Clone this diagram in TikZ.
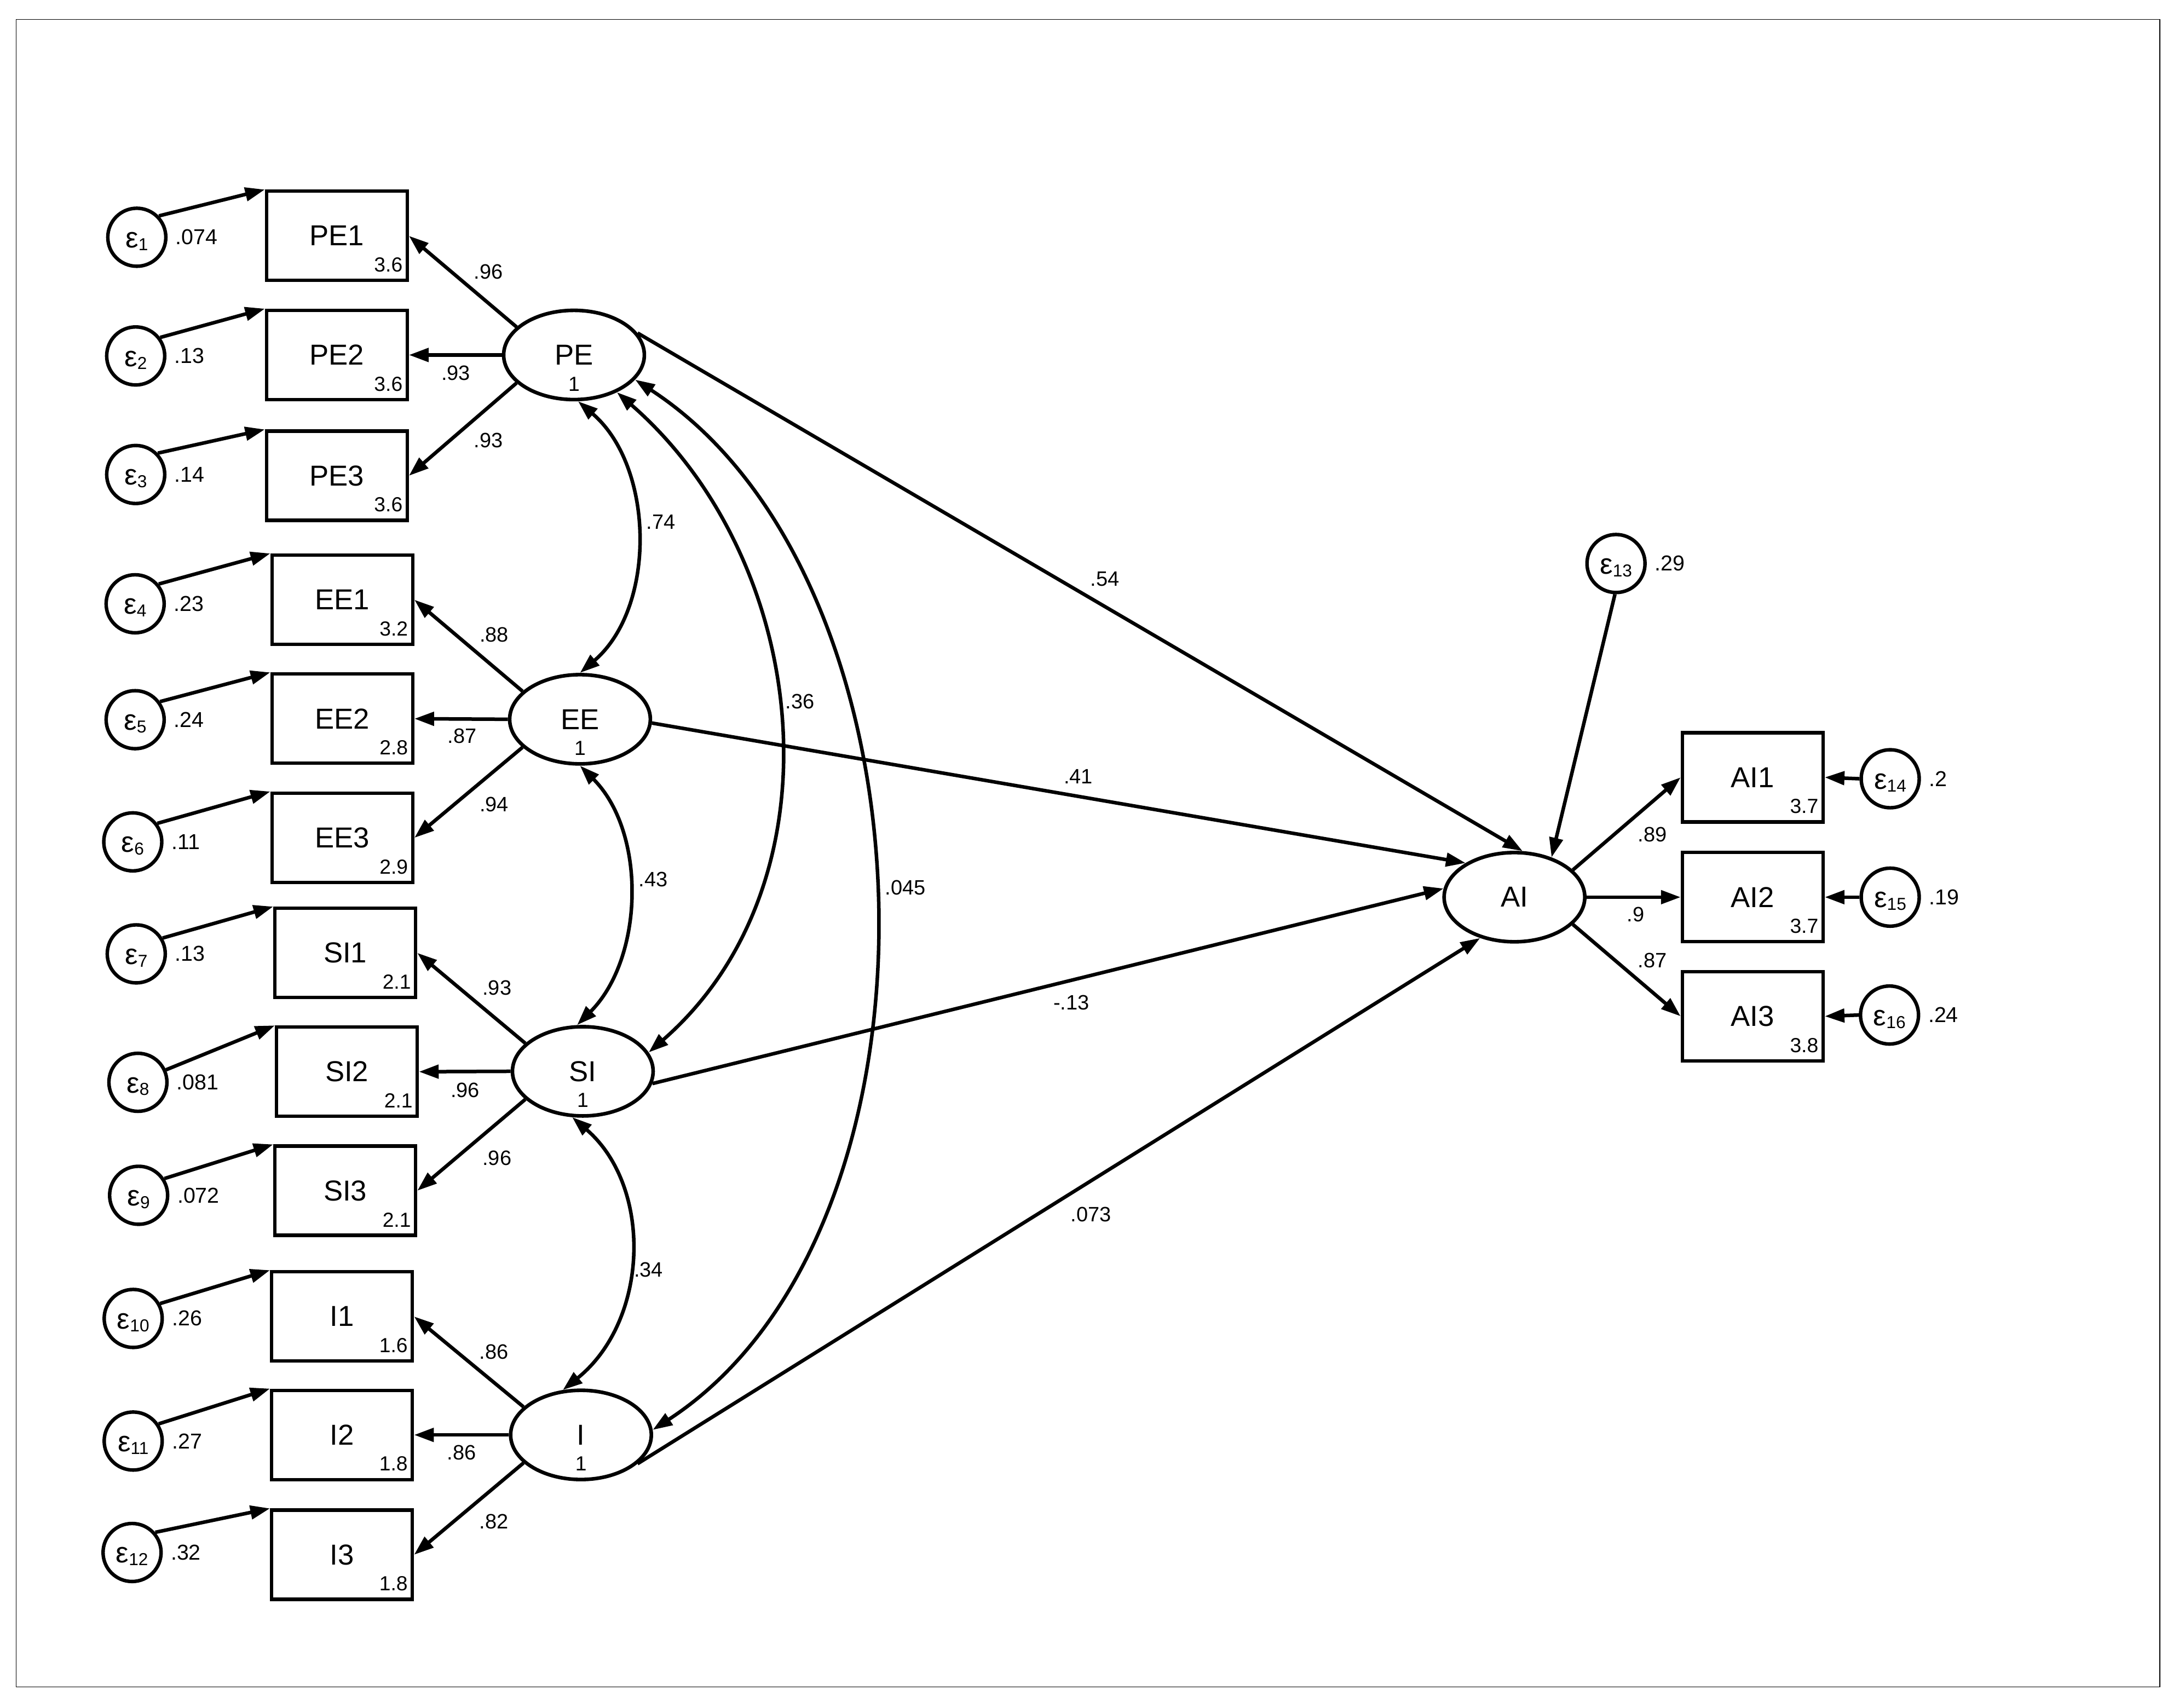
\documentclass[tikz,border=0pt]{standalone}
\usepackage{fontspec}
\setmainfont{Liberation Sans}
\usetikzlibrary{arrows.meta,shapes.geometric}
\newcommand\epsl[1]{\raisebox{-5.4pt}[0pt][0pt]{ε\raisebox{-1.4pt}{\fontsize{9}{9}\selectfont #1}}}
\begin{document}
\begin{tikzpicture}[x=0.2545mm,y=-0.2545mm,
 >={Triangle[length=3.6mm,width=2.45mm]},
 obs/.style={draw,rectangle,minimum width=25.7mm,minimum height=16.3mm,line width=0.62mm,inner sep=0pt,font=\fontsize{15}{15}\selectfont},
 lat/.style={draw,ellipse,minimum width=25.7mm,minimum height=16.3mm,line width=0.66mm,inner sep=0pt,font=\fontsize{15}{15}\selectfont},
 err/.style={draw,circle,minimum size=10.6mm,line width=0.64mm,inner sep=0pt,font=\fontsize{15}{15}\selectfont},
 val/.style={inner sep=0pt,font=\fontsize{10.6}{10.6}\selectfont},
 elab/.style={inner sep=0pt,anchor=west,font=\fontsize{11.2}{11.2}\selectfont},
 coef/.style={inner sep=0pt,font=\fontsize{10.8}{10.8}\selectfont},
 pth/.style={line width=0.65mm,->},
 cov/.style={line width=0.65mm,<->},
]
\useasboundingbox (0,0) rectangle (1564,1226);
\draw[line width=0.12mm] (11.5,14.1) rectangle (1550.2,1211);

% observed boxes
\node[obs] (PE1) at (241.8,169.3) {PE1};
\node[obs] (PE2) at (241.8,254.8) {PE2};
\node[obs] (PE3) at (241.8,341.5) {PE3};
\node[obs] (EE1) at (245.7,430.5) {EE1};
\node[obs] (EE2) at (245.7,515.9) {EE2};
\node[obs] (EE3) at (245.7,601.4) {EE3};
\node[obs] (SI1) at (247.8,684) {SI1};
\node[obs] (SI2) at (249,769.3) {SI2};
\node[obs] (SI3) at (247.8,854.7) {SI3};
\node[obs] (I1) at (245.5,945) {I1};
\node[obs] (I2) at (245.5,1030) {I2};
\node[obs] (I3) at (245.5,1116) {I3};
\node[obs] (AI1) at (1258,558) {AI1};
\node[obs] (AI2) at (1258,644) {AI2};
\node[obs] (AI3) at (1258,729.5) {AI3};

% intercepts
\node[val,anchor=south east] (PE1n) at ([shift={(-4.3,-7)}]PE1.south east) {3.6};
\node[val,anchor=south east] (PE2n) at ([shift={(-4.3,-7)}]PE2.south east) {3.6};
\node[val,anchor=south east] (PE3n) at ([shift={(-4.3,-7)}]PE3.south east) {3.6};
\node[val,anchor=south east] (EE1n) at ([shift={(-4.3,-7)}]EE1.south east) {3.2};
\node[val,anchor=south east] (EE2n) at ([shift={(-4.3,-7)}]EE2.south east) {2.8};
\node[val,anchor=south east] (EE3n) at ([shift={(-4.3,-7)}]EE3.south east) {2.9};
\node[val,anchor=south east] (SI1n) at ([shift={(-4.3,-7)}]SI1.south east) {2.1};
\node[val,anchor=south east] (SI2n) at ([shift={(-4.3,-7)}]SI2.south east) {2.1};
\node[val,anchor=south east] (SI3n) at ([shift={(-4.3,-7)}]SI3.south east) {2.1};
\node[val,anchor=south east] (I1n) at ([shift={(-4.3,-7)}]I1.south east) {1.6};
\node[val,anchor=south east] (I2n) at ([shift={(-4.3,-7)}]I2.south east) {1.8};
\node[val,anchor=south east] (I3n) at ([shift={(-4.3,-7)}]I3.south east) {1.8};
\node[val,anchor=south east] (AI1n) at ([shift={(-4.3,-7)}]AI1.south east) {3.7};
\node[val,anchor=south east] (AI2n) at ([shift={(-4.3,-7)}]AI2.south east) {3.7};
\node[val,anchor=south east] (AI3n) at ([shift={(-4.3,-7)}]AI3.south east) {3.8};

% latent variables
\node[lat] (PE) at (412,254.8) {PE};
\node[lat] (EE) at (416.3,516.3) {EE};
\node[lat] (SI) at (418.3,769) {SI};
\node[lat] (I) at (417,1030) {I};
\node[lat] (AI) at (1087,644) {AI};
\node[val] (PEn) at ([shift={(0,20.8)}]PE.center) {1};
\node[val] (EEn) at ([shift={(0,20.8)}]EE.center) {1};
\node[val] (SIn) at ([shift={(0,20.8)}]SI.center) {1};
\node[val] (In) at ([shift={(0,20.8)}]I.center) {1};

% error terms
\node[err] (e1) at (98.2,170.3) {\epsl{1}};
\node[err] (e2) at (97.4,255.5) {\epsl{2}};
\node[err] (e3) at (97.4,340.6) {\epsl{3}};
\node[err] (e4) at (97,433.4) {\epsl{4}};
\node[err] (e5) at (97,516.6) {\epsl{5}};
\node[err] (e6) at (95.3,604.3) {\epsl{6}};
\node[err] (e7) at (97.8,684.7) {\epsl{7}};
\node[err] (e8) at (99,776.9) {\epsl{8}};
\node[err] (e9) at (99.5,858) {\epsl{9}};
\node[err] (e10) at (95.6,946.4) {\epsl{10}};
\node[err] (e11) at (95.6,1034.4) {\epsl{11}};
\node[err] (e12) at (94.8,1114.4) {\epsl{12}};
\node[err] (e13) at (1159.9,404.5) {\epsl{13}};
\node[err] (e14) at (1356.7,559) {\epsl{14}};
\node[err] (e15) at (1356.7,644) {\epsl{15}};
\node[err] (e16) at (1356.2,728.6) {\epsl{16}};

% error variances
\node[elab] (e1v) at ([shift={(5.5,0)}]e1.east) {.074};
\node[elab] (e2v) at ([shift={(5.5,0)}]e2.east) {.13};
\node[elab] (e3v) at ([shift={(5.5,0)}]e3.east) {.14};
\node[elab] (e4v) at ([shift={(5.5,0)}]e4.east) {.23};
\node[elab] (e5v) at ([shift={(5.5,0)}]e5.east) {.24};
\node[elab] (e6v) at ([shift={(5.5,0)}]e6.east) {.11};
\node[elab] (e7v) at ([shift={(5.5,0)}]e7.east) {.13};
\node[elab] (e8v) at ([shift={(5.5,0)}]e8.east) {.081};
\node[elab] (e9v) at ([shift={(5.5,0)}]e9.east) {.072};
\node[elab] (e10v) at ([shift={(5.5,0)}]e10.east) {.26};
\node[elab] (e11v) at ([shift={(5.5,0)}]e11.east) {.27};
\node[elab] (e12v) at ([shift={(5.5,0)}]e12.east) {.32};
\node[elab] (e13v) at ([shift={(5.5,0)}]e13.east) {.29};
\node[elab] (e14v) at ([shift={(5.5,0)}]e14.east) {.2};
\node[elab] (e15v) at ([shift={(5.5,0)}]e15.east) {.19};
\node[elab] (e16v) at ([shift={(5.5,0)}]e16.east) {.24};

% error -> indicator
\draw[pth] (e1.44) -- (PE1.north west);
\draw[pth] (e2.37) -- (PE2.north west);
\draw[pth] (e3.44) -- (PE3.north west);
\draw[pth] (e4.40) -- (EE1.north west);
\draw[pth] (e5.36) -- (EE2.north west);
\draw[pth] (e6.37) -- (EE3.north west);
\draw[pth] (e7.31) -- (SI1.north west);
\draw[pth] (e8.24) -- (SI2.north west);
\draw[pth] (e9.33) -- (SI3.north west);
\draw[pth] (e10.29) -- (I1.north west);
\draw[pth] (e11.34) -- (I2.north west);
\draw[pth] (e12.41) -- (I3.north west);
\draw[pth] (e14.west) -- (AI1.east);
\draw[pth] (e15.west) -- (AI2.east);
\draw[pth] (e16.west) -- (AI3.east);
\draw[pth] (e13.-92) -- (AI.47);

% latent -> indicators
\draw[pth] (PE.154) -- (PE1.east);
\draw[pth] (PE.west) -- (PE2.east);
\draw[pth] (PE.206) -- (PE3.east);
\draw[pth] (EE.154) -- (EE1.east);
\draw[pth] (EE.west) -- (EE2.east);
\draw[pth] (EE.206) -- (EE3.east);
\draw[pth] (SI.154) -- (SI1.east);
\draw[pth] (SI.west) -- (SI2.east);
\draw[pth] (SI.206) -- (SI3.east);
\draw[pth] (I.154) -- (I1.east);
\draw[pth] (I.west) -- (I2.east);
\draw[pth] (I.206) -- (I3.east);
\draw[pth] (AI.25.5) -- (AI1.west);
\draw[pth] (AI.east) -- (AI2.west);
\draw[pth] (AI.-25.5) -- (AI3.west);

% structural paths
\draw[pth] (PE.19) -- (AI.80);
\draw[pth] (EE.-3) -- (AI.145);
\draw[pth] (SI.-10) -- (AI.173);
\draw[pth] (I.-27) -- (AI.230);

% covariances
\draw[cov] (PE.-85) .. controls +(55,47) and +(55,-47) .. (EE.north);
\draw[cov] (EE.south) .. controls +(48,48) and +(48,-48) .. (SI.97);
\draw[cov] (SI.-103) .. controls +(58,50) and +(62,-50) .. (I.112);
\draw[cov] (PE.-41) .. controls +(140,122) and +(140,-122) .. (SI.16);
\draw[cov] (PE.-22) .. controls +(221,144) and +(221,-144) .. (I.4);

% coefficients
\node[coef] (c1) at (350.5,195) {.96};
\node[coef] (c2) at (327.2,267.9) {.93};
\node[coef] (c3) at (350.5,316.1) {.93};
\node[coef] (c4) at (354.7,455.8) {.88};
\node[coef] (c5) at (331.6,528.4) {.87};
\node[coef] (c6) at (354.7,577.5) {.94};
\node[coef] (c7) at (356.7,709) {.93};
\node[coef] (c8) at (333.8,782.5) {.96};
\node[coef] (c9) at (356.7,831.3) {.96};
\node[coef] (c10) at (354.4,970.4) {.86};
\node[coef] (c11) at (331.3,1042.8) {.86};
\node[coef] (c12) at (354.4,1092) {.82};
\node[coef] (c13) at (474.3,374.8) {.74};
\node[coef] (c14) at (468.9,631.4) {.43};
\node[coef] (c15) at (465.5,911.3) {.34};
\node[coef] (c16) at (574.2,503.7) {.36};
\node[coef] (c17) at (649.8,637.1) {.045};
\node[coef] (c18) at (793,415.7) {.54};
\node[coef] (c19) at (774,557.5) {.41};
\node[coef] (c20) at (769,719.7) {-.13};
\node[coef] (c21) at (783,871.9) {.073};
\node[coef] (c22) at (1186,599) {.89};
\node[coef] (c23) at (1174,656.5) {.9};
\node[coef] (c24) at (1186,689.6) {.87};
\end{tikzpicture}
\end{document}
